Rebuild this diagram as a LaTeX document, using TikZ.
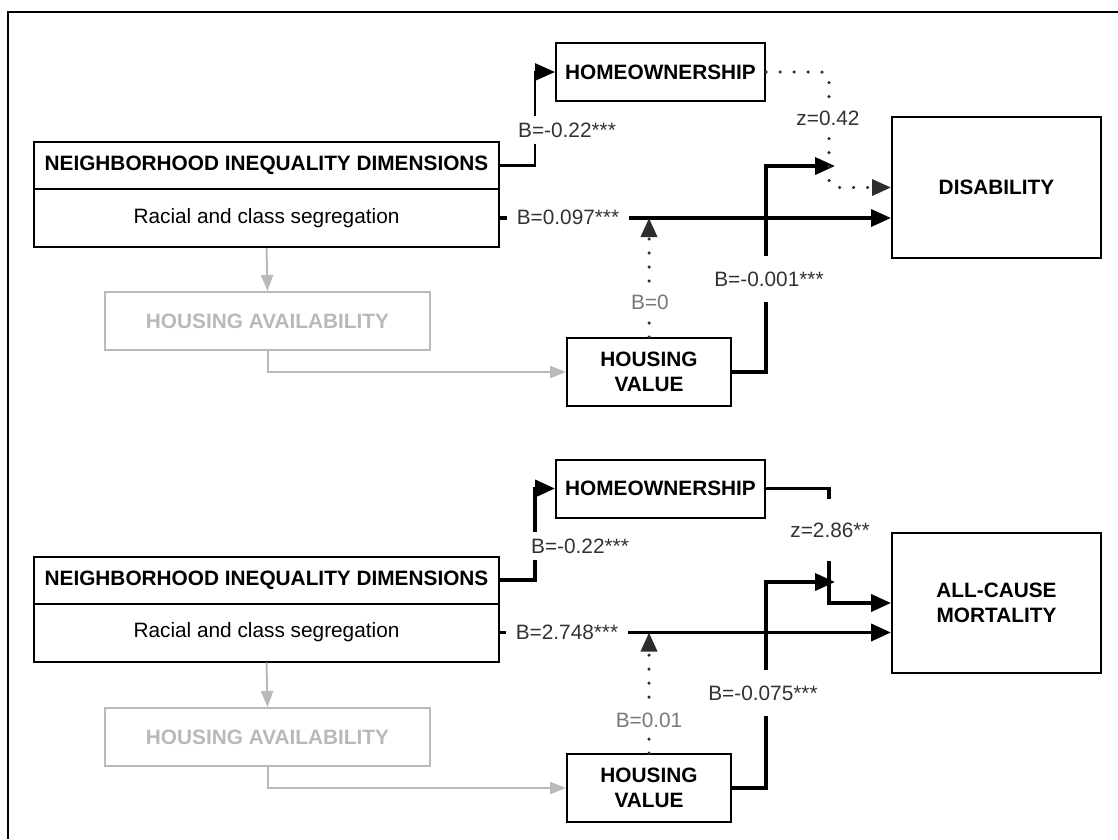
\documentclass[tikz,border=0pt]{standalone}
\usepackage{fontspec}
\setmainfont{Liberation Sans}
\usetikzlibrary{arrows.meta}
\definecolor{labgray}{RGB}{50,50,50}
\definecolor{lightlab}{RGB}{120,120,120}
\definecolor{availgray}{RGB}{185,185,185}
\definecolor{dotgray}{RGB}{45,45,45}

\begin{document}
\begin{tikzpicture}[x=1pt, y=-1pt,
    every node/.style={font=\fontsize{20.8}{25}\selectfont},
    box/.style={draw, line width=2pt, align=center, inner sep=0pt},
    boldbox/.style={box, font=\fontsize{20.8}{25}\selectfont\bfseries},
    graybox/.style={boldbox, draw=availgray, text=availgray},
    conn/.style={line width=3.8pt, -{Triangle[length=20pt,width=17pt]}},
    grayconn/.style={line width=2pt, availgray, -{Triangle[length=16pt,width=12pt]}},
    dotconn/.style={line width=3.5pt, dotgray, line cap=round, dash pattern=on 0pt off 14pt,
        -{Triangle[length=19pt,width=16pt]}},
    lab/.style={fill=white, text=labgray, inner xsep=10pt, inner ysep=7pt}]
			\useasboundingbox (0,0) rectangle (1118,839);
			\draw[line width=1.5pt] (8,839) -- (8,12) -- (1118,12);
			%%%%%%%%%%%%%%%%%%%%%%%%%%%%%%%% disability
			\node[boldbox, minimum width=465pt, minimum height=47pt] (nidA) at (266.5,165.5) {NEIGHBORHOOD INEQUALITY DIMENSIONS};
			\node[box, minimum width=465pt, minimum height=58pt] (nidB) at (266.5,218) {Racial and class segregation};
			\node[graybox, minimum width=325pt, minimum height=58pt] (avail) at (267.5,321) {HOUSING AVAILABILITY};
			\node[boldbox, minimum width=164pt, minimum height=68pt] (value) at (649,372) {HOUSING\\VALUE};
			\node[boldbox, minimum width=209pt, minimum height=58pt] (own) at (660.5,72) {HOMEOWNERSHIP};
			\node[boldbox, minimum width=209pt, minimum height=141pt] (dis) at (996.5,187.5) {DISABILITY};
			\coordinate (tipA) at (835,166);
			\draw[grayconn] (nidB.south) -- (avail.north);
			\draw[grayconn] (avail.south) |- (value.west);
			\draw[conn, line width=2.7pt] (nidA.east) -- ++(35,0) |- (own.west);
			\draw[conn] (nidB.east) -- (nidB.east -| dis.west);
			\draw[conn] (value.east) -- ++(34,0) |- (tipA);
			\draw[dotconn] (value.north) -- (value.north |- nidB.east);
			\draw[dotconn, rounded corners=8pt] (own.east) -- ++(63,0) |- (dis.west);
			\node[lab] (bownA) at (567,130) {B=-0.22***};
			\node[lab] (bsegA) at (568,217) {B=0.097***};
			\node[lab, text=lightlab] (bvalA) at (650,302) {B=0};
			\node[lab, inner ysep=16pt] (bdisA) at (769,279) {B=-0.001***};
			\node[lab, inner ysep=8pt] (zA) at (828,118) {z=0.42};
			%%%%%%%%%%%%%%%%%%%%%%%%%%%%%%%% mortality
			\node[boldbox, minimum width=465pt, minimum height=47pt] (nidC) at (266.5,580) {NEIGHBORHOOD INEQUALITY DIMENSIONS};
			\node[box, minimum width=465pt, minimum height=58pt] (nidD) at (266.5,632.5) {Racial and class segregation};
			\node[graybox, minimum width=325pt, minimum height=58pt] (availB) at (267.5,737) {HOUSING AVAILABILITY};
			\node[boldbox, minimum width=164pt, minimum height=68pt] (valueB) at (649,788) {HOUSING\\VALUE};
			\node[boldbox, minimum width=209pt, minimum height=58pt] (ownB) at (660.5,488.5) {HOMEOWNERSHIP};
			\node[boldbox, minimum width=209pt, minimum height=140pt] (mort) at (996.5,603) {ALL-CAUSE\\MORTALITY};
			\coordinate (tipB) at (835,582);
			\draw[grayconn] (nidD.south) -- (availB.north);
			\draw[grayconn] (availB.south) |- (valueB.west);
			\draw[conn] (nidC.east) -- ++(35,0) |- (ownB.west);
			\draw[conn] (nidD.east) -- (nidD.east -| mort.west);
			\draw[conn] (valueB.east) -- ++(34,0) |- (tipB);
			\draw[dotconn] (valueB.north) -- (valueB.north |- nidD.east);
			\draw[conn] (ownB.east) -- ++(63,0) |- (mort.west);
			\node[lab] (bownB) at (580,546) {B=-0.22***};
			\node[lab] (bsegB) at (567,632) {B=2.748***};
			\node[lab, text=lightlab] (bvalB) at (649,720) {B=0.01};
			\node[lab, inner ysep=16pt] (bmortB) at (763,693) {B=-0.075***};
			\node[lab, inner ysep=24pt] (zB) at (830,530) {z=2.86**};
		\end{tikzpicture}
\end{document}
